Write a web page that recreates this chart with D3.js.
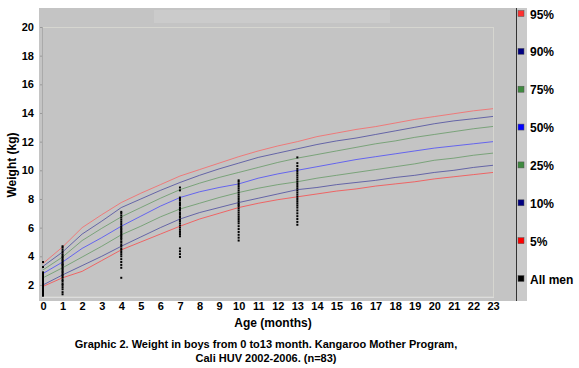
<!DOCTYPE html>
<html>
<head>
<meta charset="utf-8">
<script src="https://cdn.jsdelivr.net/npm/d3@7"></script>
<style>
  body { margin: 0; background: #fff; }
  svg { display: block; font-family: "Liberation Sans", Arial, sans-serif; }
</style>
</head>
<body>
<svg id="chart"></svg>
<script>
// months for percentile curves
const months = d3.range(0, 24);

// percentile curves (kg)
const p5  = [1.9, 2.5, 2.95, 3.7, 4.45, 5.0, 5.55, 6.1, 6.6, 7.0, 7.4, 7.7, 7.95, 8.15, 8.35, 8.55, 8.7, 8.9, 9.05, 9.2, 9.4, 9.55, 9.7, 9.85];
const p10 = [2.0, 2.7, 3.35, 4.0, 4.7, 5.35, 6.0, 6.6, 7.05, 7.4, 7.75, 8.05, 8.35, 8.65, 8.8, 9.0, 9.15, 9.3, 9.5, 9.65, 9.85, 10.0, 10.2, 10.35];
const p25 = [2.5, 3.2, 3.95, 4.7, 5.5, 6.1, 6.75, 7.3, 7.7, 8.1, 8.45, 8.75, 9.0, 9.2, 9.45, 9.65, 9.85, 10.05, 10.25, 10.45, 10.7, 10.85, 11.05, 11.2];
const p50 = [2.8, 3.6, 4.55, 5.3, 6.1, 6.8, 7.5, 8.1, 8.5, 8.8, 9.05, 9.45, 9.75, 10.0, 10.25, 10.5, 10.75, 10.95, 11.15, 11.35, 11.55, 11.7, 11.85, 12.0];
const p75 = [3.05, 3.95, 5.1, 5.95, 6.75, 7.4, 8.05, 8.65, 9.1, 9.5, 9.85, 10.2, 10.55, 10.85, 11.1, 11.35, 11.6, 11.85, 12.05, 12.3, 12.5, 12.7, 12.9, 13.06];
const p90 = [3.3, 4.3, 5.55, 6.45, 7.4, 8.0, 8.6, 9.15, 9.65, 10.1, 10.5, 10.9, 11.2, 11.5, 11.8, 12.05, 12.25, 12.5, 12.75, 13.0, 13.25, 13.45, 13.6, 13.76];
const p95 = [3.5, 4.65, 6.0, 6.9, 7.75, 8.4, 9.0, 9.6, 10.05, 10.5, 10.95, 11.35, 11.7, 12.0, 12.35, 12.6, 12.85, 13.05, 13.3, 13.55, 13.75, 13.95, 14.15, 14.3];

// individual weights of all boys at each visit
const visitMonths = [0, 1, 4, 7, 10, 13];
const weights0  = [1.25, 1.3, 1.38, 1.45, 1.5, 1.58, 1.62, 1.7, 1.75, 1.8, 1.88, 1.92, 2.0, 2.05, 2.1, 2.18, 2.22, 2.3, 2.35, 2.4, 2.48, 2.52, 2.6, 2.65, 2.72, 2.8, 2.88, 3.25, 3.6];
const weights1  = [1.35, 1.5, 1.7, 1.85, 2.0, 2.1, 2.25, 2.35, 2.5, 2.6, 2.7, 2.8, 2.9, 3.0, 3.1, 3.2, 3.3, 3.4, 3.45, 3.55, 3.65, 3.75, 3.85, 3.95, 4.05, 4.15, 4.3, 4.45, 4.6, 4.7];
const weights4  = [2.5, 3.2, 3.4, 3.6, 3.8, 4.0, 4.15, 4.3, 4.45, 4.55, 4.7, 4.8, 4.95, 5.05, 5.2, 5.3, 5.4, 5.5, 5.6, 5.7, 5.8, 5.9, 6.0, 6.1, 6.25, 6.4, 6.55, 6.7, 6.85, 7.0, 7.1];
const weights7  = [3.95, 4.15, 4.35, 4.55, 5.4, 5.55, 5.7, 5.85, 6.0, 6.15, 6.3, 6.45, 6.55, 6.7, 6.8, 6.95, 7.05, 7.2, 7.3, 7.4, 7.55, 7.65, 7.75, 7.9, 8.0, 8.1, 8.6, 8.8];
const weights10 = [5.1, 5.3, 5.5, 5.7, 5.9, 6.1, 6.3, 6.45, 6.6, 6.75, 6.9, 7.05, 7.2, 7.35, 7.5, 7.6, 7.7, 7.85, 8.0, 8.15, 8.3, 8.45, 8.6, 8.75, 8.9, 9.05, 9.2, 9.3];
const weights13 = [6.2, 6.4, 6.6, 6.8, 7.0, 7.2, 7.4, 7.55, 7.7, 7.85, 8.0, 8.15, 8.3, 8.45, 8.6, 8.75, 8.9, 9.05, 9.2, 9.35, 9.5, 9.65, 9.8, 9.95, 10.1, 10.3, 10.5, 10.9];

const yTicks = [2, 4, 6, 8, 10, 12, 14, 16, 18, 20];
const xTicks = d3.range(0, 24);

const legendLabels = ["95%", "90%", "75%", "50%", "25%", "10%", "5%", "All men"];

const W = 579, H = 368;
const svg = d3.select("#chart").attr("width", W).attr("height", H);

// outer grey panel
svg.append("rect").attr("x", 39).attr("y", 8).attr("width", 477).attr("height", 293).attr("fill", "#c4c4c4");
// lighter title band
svg.append("rect").attr("x", 154).attr("y", 10).attr("width", 236).attr("height", 13).attr("fill", "#cbcbcb");
// legend strip
svg.append("rect").attr("x", 516).attr("y", 8).attr("width", 11).attr("height", 293).attr("fill", "#cacaca");
svg.append("line").attr("x1", 516.5).attr("x2", 516.5).attr("y1", 8).attr("y2", 301)
    .attr("stroke", "#333").attr("stroke-width", 1);

const x = d3.scaleLinear().domain([0, 23]).range([43, 493]);
const y = d3.scaleLinear().domain([1.16, 20]).range([297, 27]);

// plot frame
svg.append("rect").attr("x", 42.5).attr("y", 27.5).attr("width", 451).attr("height", 269.5)
    .attr("fill", "#c4c4c4").attr("stroke", "#d6d6d0").attr("stroke-width", 1);
svg.append("line").attr("x1", 42.5).attr("x2", 42.5).attr("y1", 27).attr("y2", 297)
    .attr("stroke", "#aaaaaa");
svg.append("line").attr("x1", 42).attr("x2", 494).attr("y1", 297.5).attr("y2", 297.5)
    .attr("stroke", "#dcdcdc");

// axes
const yAxis = svg.append("g").attr("transform", "translate(42,0)")
    .call(d3.axisLeft(y).tickValues(yTicks).tickSize(2).tickPadding(6));
const xAxis = svg.append("g").attr("transform", "translate(0,297)")
    .call(d3.axisBottom(x).tickValues(xTicks).tickSize(0).tickPadding(5));
[yAxis, xAxis].forEach(a => {
  a.select(".domain").remove();
  a.selectAll("line").attr("stroke", "#999");
  a.selectAll("text").attr("fill", "#000").style("font-size", "11px").style("font-weight", "bold")
      .style("font-family", "'Liberation Sans', Arial, sans-serif");
});

// percentile curves
const curves = [
  { data: p95, color: "#ff5a5a" },
  { data: p90, color: "#3c3c9a" },
  { data: p75, color: "#5a945a" },
  { data: p50, color: "#3c3cff" },
  { data: p25, color: "#5a945a" },
  { data: p10, color: "#3c3c9a" },
  { data: p5,  color: "#ff3c3c" }
];
const line = d3.line().x((d, i) => x(months[i])).y(d => y(d));
curves.forEach(c => {
  svg.append("path").datum(c.data)
      .attr("fill", "none").attr("stroke", c.color).attr("stroke-width", 1)
      .attr("stroke-opacity", 0.7).attr("d", line);
});

// scatter of all boys
const weightsByVisit = [weights0, weights1, weights4, weights7, weights10, weights13];
weightsByVisit.forEach((ws, k) => {
  svg.append("g").selectAll("rect").data(ws).join("rect")
      .attr("x", x(visitMonths[k]) - 1).attr("y", d => y(d) - 1)
      .attr("width", 2).attr("height", 2).attr("fill", "#000");
});

// legend
const legendColors = ["#ff3030", "#000080", "#3f8a3f", "#0000ff", "#3f8a3f", "#000080", "#ff0000", "#000000"];
const ly = d3.scalePoint().domain(legendLabels).range([14, 279]);
const lg = svg.append("g");
legendLabels.forEach((lab, i) => {
  lg.append("rect").attr("x", 518).attr("y", ly(lab) - 3.5).attr("width", 6).attr("height", 6)
      .attr("fill", legendColors[i]).attr("stroke", "#555").attr("stroke-width", 0.5);
  lg.append("text").attr("x", 530).attr("y", ly(lab) + 4.5)
      .style("font-size", "12px").style("font-weight", "bold").text(lab);
});

// axis titles
svg.append("text").attr("transform", "translate(16,165) rotate(-90)")
    .attr("text-anchor", "middle").style("font-size", "12px").style("font-weight", "bold")
    .text("Weight (kg)");
svg.append("text").attr("x", 273).attr("y", 327).attr("text-anchor", "middle")
    .style("font-size", "12px").style("font-weight", "bold").text("Age  (months)");

// caption
svg.append("text").attr("x", 266).attr("y", 348).attr("text-anchor", "middle")
    .style("font-size", "11px").style("font-weight", "bold")
    .text("Graphic 2. Weight in boys from 0 to13 month. Kangaroo Mother Program,");
svg.append("text").attr("x", 266).attr("y", 362).attr("text-anchor", "middle")
    .style("font-size", "11px").style("font-weight", "bold")
    .text("Cali HUV 2002-2006. (n=83)");
</script>
</body>
</html>
